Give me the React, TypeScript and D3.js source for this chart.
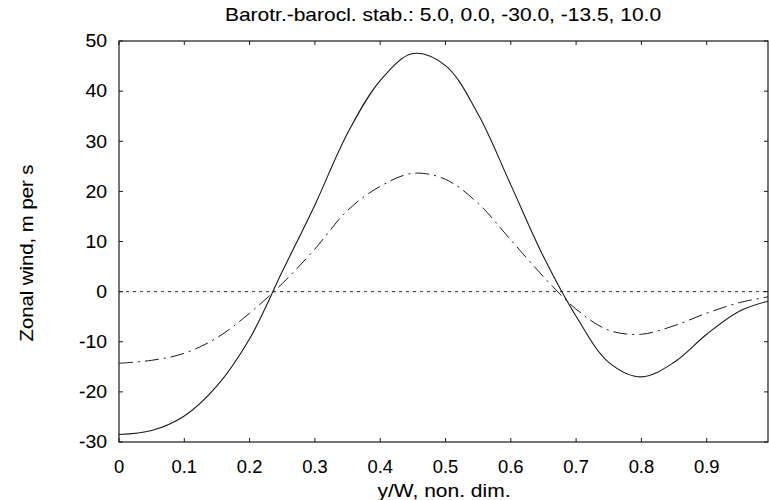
import { useRef, useEffect } from "react";
import * as d3 from "d3";

// y/W grid and the two zonal wind profiles
const yW = [0, 0.05, 0.1, 0.15, 0.2, 0.25, 0.3, 0.35, 0.4, 0.45, 0.5, 0.55, 0.6, 0.65, 0.7, 0.75, 0.8, 0.85, 0.9, 0.95, 1.0];
const solidWind = [-28.5, -27.7, -24.8, -18.8, -9.4, 4.0, 17.3, 31.6, 42.1, 47.5, 45.1, 35.4, 21.3, 7.0, -4.9, -14.1, -17.0, -14.1, -8.5, -3.9, -1.7];
const dashWind = [-14.3, -13.7, -12.3, -9.2, -4.3, 1.6, 8.5, 16.2, 21.0, 23.6, 22.4, 17.6, 10.3, 3.0, -3.5, -7.7, -8.5, -6.8, -4.3, -2.2, -0.9];

const xTicks = [0, 0.1, 0.2, 0.3, 0.4, 0.5, 0.6, 0.7, 0.8, 0.9];
const yTicks = [-30, -20, -10, 0, 10, 20, 30, 40, 50];

const title = "Barotr.-barocl. stab.: 5.0, 0.0, -30.0, -13.5, 10.0";
const xTitle = "y/W, non. dim.";
const yTitle = "Zonal wind, m per s";

const W = 769;
const H = 500;
const left = 119, right = 768, top = 41, bottom = 442;
const font = "'Liberation Sans', Arial, sans-serif";
const ink = "#1a1a1a";

function drawChart(el: SVGSVGElement) {
  const svg = d3.select(el);
  svg.selectAll("*").remove();

  const x = d3.scaleLinear().domain([0, 1]).range([left, 772]);
  const y = d3.scaleLinear().domain([-30, 50]).range([bottom, top]);

  svg.append("defs").append("clipPath").attr("id", "plotclip")
    .append("rect").attr("x", left).attr("y", top).attr("width", right - left).attr("height", bottom - top);

  // zero line
  svg.append("line")
    .attr("x1", left).attr("x2", right).attr("y1", y(0)).attr("y2", y(0))
    .attr("stroke", "#333").attr("stroke-width", 1).attr("stroke-dasharray", "3 4");

  const line = (vals: number[]) =>
    d3.line<number>().x((_, i) => x(yW[i])).y(d => y(d)).curve(d3.curveCatmullRom.alpha(0.5))(vals);

  const g = svg.append("g").attr("clip-path", "url(#plotclip)");
  g.append("path").attr("d", line(dashWind))
    .attr("fill", "none").attr("stroke", ink).attr("stroke-width", 1)
    .attr("stroke-dasharray", "14 5 2 5");
  g.append("path").attr("d", line(solidWind))
    .attr("fill", "none").attr("stroke", ink).attr("stroke-width", 1.1);

  // frame
  svg.append("rect").attr("x", left).attr("y", top)
    .attr("width", right - left).attr("height", bottom - top)
    .attr("fill", "none").attr("stroke", ink).attr("stroke-width", 1.2);

  // inward ticks
  const tk = 4;
  xTicks.forEach(t => {
    svg.append("line").attr("x1", x(t)).attr("x2", x(t)).attr("y1", bottom).attr("y2", bottom - tk).attr("stroke", ink);
    svg.append("line").attr("x1", x(t)).attr("x2", x(t)).attr("y1", top).attr("y2", top + tk).attr("stroke", ink);
  });
  yTicks.forEach(t => {
    svg.append("line").attr("x1", left).attr("x2", left + tk).attr("y1", y(t)).attr("y2", y(t)).attr("stroke", ink);
    svg.append("line").attr("x1", right).attr("x2", right - tk).attr("y1", y(t)).attr("y2", y(t)).attr("stroke", ink);
  });

  // text helper: slightly wide type, like the scanned original
  const label = (tx: number, ty: number, str: string, anchor: string, size: number, sx = 1.08, rot = 0) =>
    svg.append("g").attr("transform", `translate(${tx},${ty}) rotate(${rot}) scale(${sx},1)`)
      .append("text")
      .attr("text-anchor", anchor).attr("font-family", font).attr("font-size", size)
      .attr("fill", "#000").attr("stroke", "#000").attr("stroke-width", 0.08)
      .text(str);

  xTicks.forEach(t => label(x(t), 473, t === 0 ? "0" : d3.format(".1f")(t), "middle", 18, 1.02));
  yTicks.forEach(t => label(107, y(t) + 6.3, String(t), "end", 18, 1.08));

  label(443, 21, title, "middle", 17.5, 1.2);
  label(444, 497, xTitle, "middle", 17.5, 1.2);
  label(33, 253, yTitle, "middle", 17.5, 1.16, -90);
}

export default function App() {
  const ref = useRef<SVGSVGElement>(null);

  useEffect(() => {
    if (ref.current) drawChart(ref.current);
  }, []);

  return (
    <svg
      ref={ref}
      width={W}
      height={H}
      style={{ position: "absolute", left: 0, top: 0, background: "#fff" }}
    />
  );
}
